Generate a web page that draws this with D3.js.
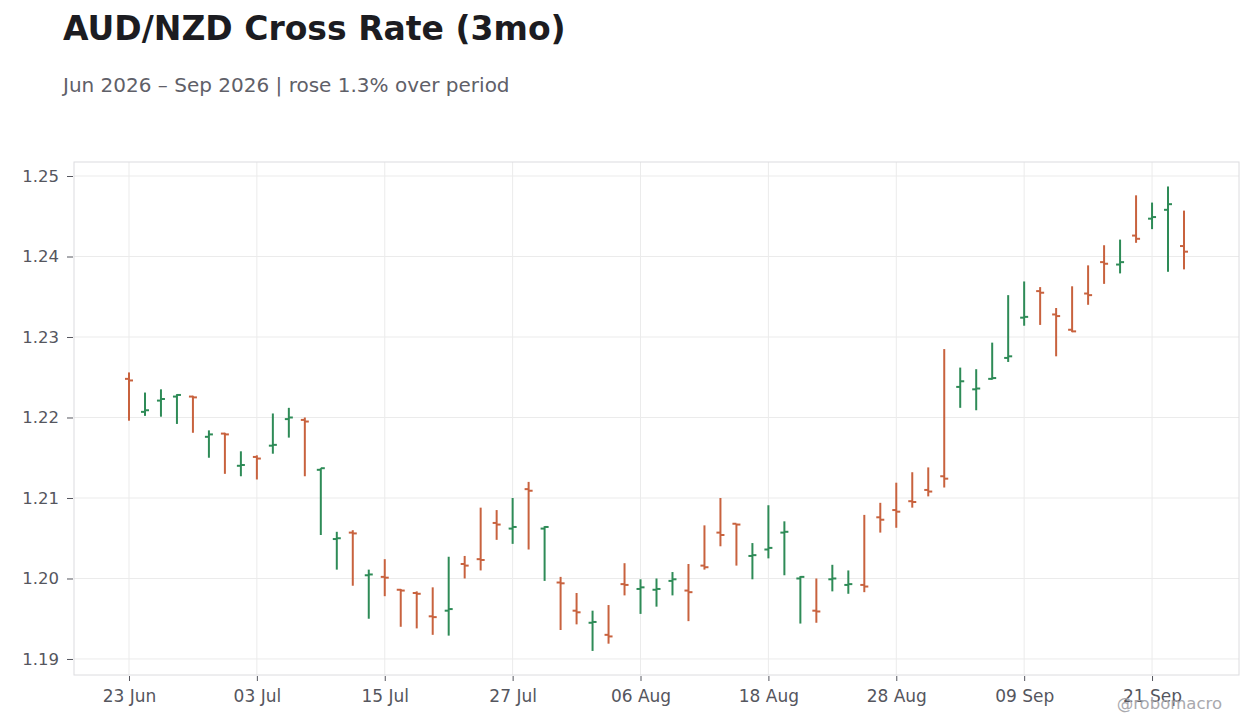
<!DOCTYPE html>
<html>
<head>
<meta charset="utf-8">
<script src="https://cdn.jsdelivr.net/npm/d3@7"></script>
<style>
  html, body { margin: 0; padding: 0; background: #ffffff; }
  svg { display: block; font-family: "DejaVu Sans", sans-serif; }
</style>
</head>
<body>
<svg id="chart" width="1260" height="728"></svg>
<script>
// ---- data ----
const dates = [
  "23 Jun","24 Jun","25 Jun","26 Jun","29 Jun","30 Jun",
  "01 Jul","02 Jul","03 Jul","06 Jul","07 Jul","08 Jul","09 Jul","10 Jul",
  "13 Jul","14 Jul","15 Jul","16 Jul","17 Jul","20 Jul","21 Jul","22 Jul","23 Jul","24 Jul",
  "27 Jul","28 Jul","29 Jul","30 Jul","31 Jul",
  "03 Aug","04 Aug","05 Aug","06 Aug","07 Aug","10 Aug","11 Aug","12 Aug","13 Aug","14 Aug",
  "17 Aug","18 Aug","19 Aug","20 Aug","21 Aug","24 Aug","25 Aug","26 Aug","27 Aug","28 Aug","31 Aug",
  "01 Sep","02 Sep","03 Sep","04 Sep","07 Sep","08 Sep","09 Sep","10 Sep","11 Sep",
  "14 Sep","15 Sep","16 Sep","17 Sep","18 Sep","21 Sep","22 Sep","23 Sep"
];
const open = [
  1.2248,1.2207,1.2221,1.2226,1.2226,1.2176,1.2180,1.2140,1.2151,1.2165,
  1.2198,1.2197,1.2135,1.2049,1.2057,1.2004,1.2002,1.1986,1.1982,1.1953,
  1.1960,1.2018,1.2024,1.2069,1.2062,1.2111,1.2062,1.1995,1.1960,1.1945,
  1.1930,1.1993,1.1987,1.1986,1.1997,1.1985,1.2016,1.2057,1.2068,1.2028,
  1.2036,1.2057,1.2000,1.1960,1.1999,1.1992,1.1992,1.2076,1.2085,1.2096,
  1.2110,1.2127,1.2238,1.2235,1.2248,1.2274,1.2324,1.2357,1.2328,1.2309,
  1.2354,1.2393,1.2390,1.2426,1.2447,1.2458,1.2413
];
const high = [
  1.2256,1.2231,1.2235,1.2229,1.2227,1.2184,1.2181,1.2158,1.2153,1.2205,
  1.2212,1.2200,1.2137,1.2058,1.2060,1.2011,1.2024,1.1987,1.1984,1.1989,
  1.2027,1.2028,1.2088,1.2085,1.2100,1.2120,1.2065,1.2002,1.1982,1.1960,
  1.1967,1.2019,1.1999,1.2000,1.2008,1.2018,1.2066,1.2100,1.2068,1.2044,
  1.2091,1.2071,1.2003,1.2000,1.2017,1.2010,1.2079,1.2094,1.2119,1.2132,
  1.2138,1.2285,1.2262,1.2260,1.2293,1.2352,1.2369,1.2362,1.2336,1.2363,
  1.2389,1.2414,1.2421,1.2476,1.2467,1.2487,1.2457
];
const low = [
  1.2196,1.2202,1.2201,1.2192,1.2181,1.2150,1.2130,1.2127,1.2123,1.2155,
  1.2175,1.2127,1.2054,1.2011,1.1991,1.1950,1.1978,1.1940,1.1938,1.1930,
  1.1929,1.2000,1.2010,1.2048,1.2043,1.2036,1.1997,1.1936,1.1943,1.1910,
  1.1919,1.1979,1.1956,1.1965,1.1979,1.1947,1.2011,1.2040,1.2016,1.1999,
  1.2025,1.2004,1.1944,1.1945,1.1984,1.1981,1.1983,1.2057,1.2063,1.2088,
  1.2102,1.2113,1.2212,1.2209,1.2247,1.2269,1.2314,1.2315,1.2276,1.2306,
  1.2340,1.2366,1.2379,1.2417,1.2434,1.2381,1.2384
];
const close = [
  1.2246,1.2209,1.2223,1.2228,1.2225,1.2179,1.2179,1.2141,1.2149,1.2166,
  1.2200,1.2195,1.2137,1.2050,1.2056,1.2005,1.2001,1.1985,1.1981,1.1952,
  1.1962,1.2016,1.2023,1.2067,1.2064,1.2109,1.2064,1.1994,1.1958,1.1946,
  1.1928,1.1992,1.1989,1.1987,1.1999,1.1983,1.2014,1.2054,1.2067,1.2029,
  1.2038,1.2058,1.2002,1.1959,1.2000,1.1993,1.1990,1.2073,1.2083,1.2095,
  1.2108,1.2124,1.2245,1.2236,1.2249,1.2276,1.2325,1.2355,1.2326,1.2307,
  1.2352,1.2391,1.2393,1.2422,1.2449,1.2465,1.2406
];
const xTickLabels = ["23 Jun","03 Jul","15 Jul","27 Jul","06 Aug","18 Aug","28 Aug","09 Sep","21 Sep"];
const yTickValues = [1.19, 1.20, 1.21, 1.22, 1.23, 1.24, 1.25];

const titleText = "AUD/NZD Cross Rate (3mo)";
const subtitleText = "Jun 2026 \u2013 Sep 2026 | rose 1.3% over period";
const watermark = "@robomacro";

// ---- layout ----
const W = 1260, H = 728;
const plot = { left: 74, right: 1239, top: 162, bottom: 675 };
const upColor = "#2e8b57", downColor = "#c8623e";

const svg = d3.select("#chart");

const bars = dates.map((d, i) => ({ date: d, o: open[i], h: high[i], l: low[i], c: close[i] }));

const x = d3.scalePoint().domain(dates).range([plot.left, plot.right]).padding(3.44);
const y = d3.scaleLinear().domain([1.18801, 1.25174]).range([plot.bottom, plot.top]);

// title
svg.append("text").attr("x", 63).attr("y", 40)
  .attr("font-size", 33).attr("font-weight", "bold").attr("fill", "#1c1c21")
  .text(titleText);
svg.append("text").attr("x", 63).attr("y", 92)
  .attr("font-size", 20).attr("fill", "#5f6068")
  .text(subtitleText);

// grid
const g = svg.append("g");
g.selectAll("line.hgrid").data(yTickValues).join("line")
  .attr("class", "hgrid")
  .attr("x1", plot.left).attr("x2", plot.right)
  .attr("y1", d => y(d)).attr("y2", d => y(d))
  .attr("stroke", "#ebebeb").attr("stroke-width", 1);
g.selectAll("line.vgrid").data(xTickLabels).join("line")
  .attr("class", "vgrid")
  .attr("x1", d => x(d)).attr("x2", d => x(d))
  .attr("y1", plot.top).attr("y2", plot.bottom)
  .attr("stroke", "#ebebeb").attr("stroke-width", 1);

// frame
svg.append("rect")
  .attr("x", plot.left).attr("y", plot.top)
  .attr("width", plot.right - plot.left).attr("height", plot.bottom - plot.top)
  .attr("fill", "none").attr("stroke", "#dcdcdf").attr("stroke-width", 1);

// axes
const yAxis = d3.axisLeft(y).tickValues(yTickValues).tickFormat(d3.format(".2f")).tickSize(6).tickPadding(8);
const yg = svg.append("g").attr("transform", `translate(${plot.left - 1},0)`).call(yAxis);
yg.select(".domain").remove();
yg.selectAll(".tick line").attr("stroke", "#55565e");
yg.selectAll(".tick text").attr("font-size", 16.5).attr("fill", "#55565e")
  .attr("font-family", "DejaVu Sans, sans-serif");

const xAxis = d3.axisBottom(x).tickValues(xTickLabels).tickSize(5).tickPadding(9.4);
const xg = svg.append("g").attr("transform", `translate(0,${plot.bottom + 1})`).call(xAxis);
xg.select(".domain").remove();
xg.selectAll(".tick line").attr("stroke", "#55565e");
xg.selectAll(".tick text").attr("font-size", 17).attr("fill", "#55565e")
  .attr("font-family", "DejaVu Sans, sans-serif");

// OHLC bars
const tickW = 4;
const bg = svg.append("g");
const bar = bg.selectAll("g.bar").data(bars).join("g").attr("class", "bar")
  .attr("stroke", d => d.c >= d.o ? upColor : downColor)
  .attr("stroke-width", 2);
bar.append("line")
  .attr("x1", d => x(d.date)).attr("x2", d => x(d.date))
  .attr("y1", d => y(d.h)).attr("y2", d => y(d.l));
bar.append("line")
  .attr("x1", d => x(d.date) - tickW).attr("x2", d => x(d.date))
  .attr("y1", d => y(d.o)).attr("y2", d => y(d.o));
bar.append("line")
  .attr("x1", d => x(d.date)).attr("x2", d => x(d.date) + tickW)
  .attr("y1", d => y(d.c)).attr("y2", d => y(d.c));

// watermark
svg.append("text").attr("x", 1222).attr("y", 709).attr("text-anchor", "end")
  .attr("font-size", 16.5).attr("fill", "#a9a9ae")
  .text(watermark);
</script>
</body>
</html>
